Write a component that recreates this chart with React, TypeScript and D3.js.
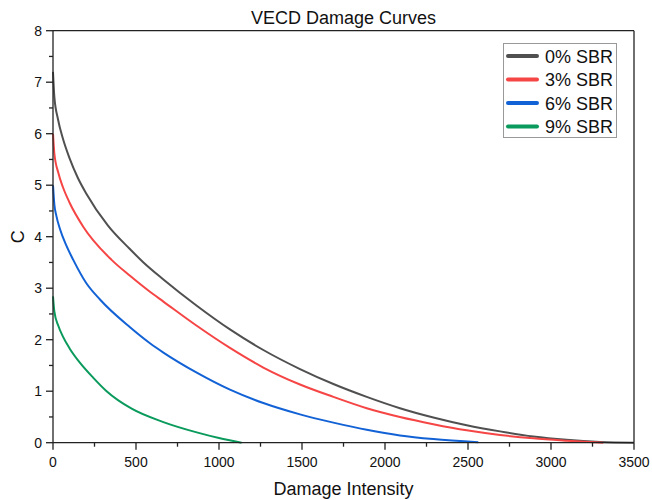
import React from "react";
import * as d3 from "d3";

const title = "VECD Damage Curves";
const xLabel = "Damage Intensity";
const yLabel = "C";
const seriesNames = ["0% SBR", "3% SBR", "6% SBR", "9% SBR"];
const seriesColors = ["#505050", "#F54545", "#1262D6", "#0A9A5C"];

const s0X = [0, 8, 30, 60, 100, 150, 200, 330, 460, 545, 665, 866, 1066, 1267, 1488, 1689, 1890, 2090, 2291, 2492, 2693, 2893, 3094, 3295, 3500];
const s0Y = [7.2, 6.72, 6.28, 5.9, 5.52, 5.14, 4.84, 4.22, 3.77, 3.5, 3.17, 2.66, 2.2, 1.8, 1.43, 1.14, 0.89, 0.67, 0.49, 0.34, 0.22, 0.12, 0.055, 0.015, 0.0];

const s1X = [0, 8, 32, 60, 100, 183, 353, 464, 584, 665, 866, 1066, 1267, 1488, 1689, 1890, 2090, 2291, 2492, 2693, 2893, 3094, 3315];
const s1Y = [6.0, 5.62, 5.24, 4.96, 4.66, 4.19, 3.55, 3.24, 2.93, 2.74, 2.27, 1.84, 1.46, 1.13, 0.89, 0.67, 0.5, 0.36, 0.24, 0.15, 0.085, 0.04, 0.0];

const s2X = [0, 8, 20, 42, 80, 122, 200, 283, 464, 584, 665, 866, 1066, 1267, 1488, 1689, 1890, 2090, 2291, 2562];
const s2Y = [5.0, 4.63, 4.41, 4.15, 3.83, 3.55, 3.1, 2.78, 2.24, 1.93, 1.75, 1.36, 1.03, 0.77, 0.55, 0.39, 0.25, 0.14, 0.07, 0.01];

const s3X = [0, 8, 32, 60, 100, 163, 243, 323, 474, 665, 866, 1000, 1136];
const s3Y = [2.84, 2.55, 2.27, 2.06, 1.83, 1.55, 1.26, 1.0, 0.66, 0.4, 0.2, 0.09, 0.0];

const xTicks = [0, 500, 1000, 1500, 2000, 2500, 3000, 3500];
const yTicks = [0, 1, 2, 3, 4, 5, 6, 7, 8];

const seriesX = [s0X, s1X, s2X, s3X];
const seriesY = [s0Y, s1Y, s2Y, s3Y];

const W = 652;
const H = 500;
const L = 53;
const R = 634;
const T = 30.7;
const B = 442.7;
const FONT = "'Liberation Sans', Arial, sans-serif";

export default function App() {
  const x = d3.scaleLinear().domain([0, 3500]).range([L, R]);
  const y = d3.scaleLinear().domain([0, 8]).range([B, T]);
  const line = d3
    .line<[number, number]>()
    .x((d) => x(d[0]))
    .y((d) => y(d[1]))
    .curve(d3.curveMonotoneX);

  const xMinor = d3.range(250, 3500, 500);
  const yMinor = d3.range(0.5, 8, 1);

  return (
    <svg
      width={W}
      height={H}
      style={{ position: "absolute", left: 0, top: 0, background: "#fff" }}
      fontFamily={FONT}
    >
      <rect x={0} y={0} width={W} height={H} fill="#fff" />
      {seriesX.map((xs, i) => (
        <path
          key={i}
          d={line(xs.map((v, j) => [v, seriesY[i][j]] as [number, number])) || ""}
          fill="none"
          stroke={seriesColors[i]}
          strokeWidth={2}
        />
      ))}
      {/* frame */}
      <line x1={L} x2={R} y1={T} y2={T} stroke="#222" strokeWidth={1.3} />
      <line x1={R} x2={R} y1={T} y2={B} stroke="#222" strokeWidth={1.3} />
      <line x1={L} x2={R} y1={B} y2={B} stroke="#222" strokeWidth={1.3} />
      <line x1={L} x2={L} y1={T} y2={B} stroke="#222" strokeWidth={1.3} />
      {/* x ticks */}
      {xTicks.map((t) => (
        <g key={"x" + t}>
          <line x1={x(t)} x2={x(t)} y1={B} y2={B + 7} stroke="#222" strokeWidth={1.3} />
          <text x={x(t)} y={467} textAnchor="middle" fontSize={14} fill="#111">
            {t}
          </text>
        </g>
      ))}
      {xMinor.map((t) => (
        <line key={"xm" + t} x1={x(t)} x2={x(t)} y1={B} y2={B + 4} stroke="#222" strokeWidth={1.3} />
      ))}
      {/* y ticks */}
      {yTicks.map((t) => (
        <g key={"y" + t}>
          <line x1={L - 7} x2={L} y1={y(t)} y2={y(t)} stroke="#222" strokeWidth={1.3} />
          <text x={42} y={y(t) + 5} textAnchor="end" fontSize={14} fill="#111">
            {t}
          </text>
        </g>
      ))}
      {yMinor.map((t) => (
        <line key={"ym" + t} x1={L - 4} x2={L} y1={y(t)} y2={y(t)} stroke="#222" strokeWidth={1.3} />
      ))}
      {/* labels */}
      <text x={(L + R) / 2} y={24} textAnchor="middle" fontSize={18} fill="#111">
        {title}
      </text>
      <text x={(L + R) / 2} y={495} textAnchor="middle" fontSize={18} fill="#111">
        {xLabel}
      </text>
      <text
        transform={`translate(24, ${(T + B) / 2}) rotate(-90)`}
        textAnchor="middle"
        fontSize={18}
        fill="#111"
      >
        {yLabel}
      </text>
      {/* legend */}
      <rect x={503.5} y={43.5} width={113} height={94} fill="#fff" stroke="#999" strokeWidth={1} />
      {seriesNames.map((n, i) => (
        <g key={n}>
          <line
            x1={508}
            x2={537}
            y1={56 + i * 23.5}
            y2={56 + i * 23.5}
            stroke={seriesColors[i]}
            strokeWidth={4}
            strokeLinecap="round"
          />
          <text x={545} y={56 + i * 23.5 + 6.5} fontSize={18} fill="#111">
            {n}
          </text>
        </g>
      ))}
    </svg>
  );
}
